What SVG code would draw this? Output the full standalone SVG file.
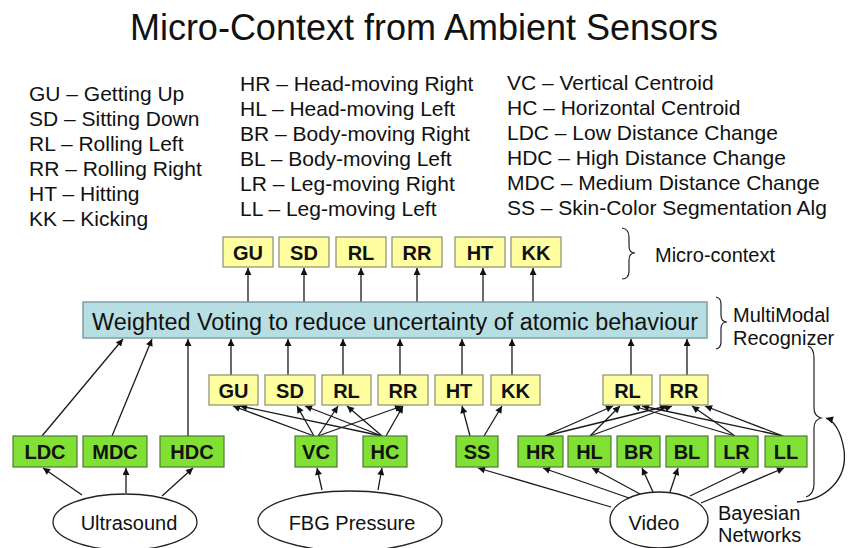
<svg xmlns="http://www.w3.org/2000/svg" width="849" height="548" viewBox="0 0 849 548">
<defs>
<marker id="ah" viewBox="0 0 10 10" refX="10" refY="5" markerWidth="8" markerHeight="7" markerUnits="userSpaceOnUse" orient="auto"><path d="M0,0 L10,5 L0,10 z" fill="#111"/></marker>
<style>
text{font-family:"Liberation Sans",Arial,sans-serif;fill:#111}
.title{font-size:36px}
.leg{font-size:21px}
.lbl{font-size:20px;font-weight:bold;text-anchor:middle}
.txt{font-size:20px}
.mid{text-anchor:middle}
.y{fill:#ffffa0;stroke:#8c8c70;stroke-width:1.2}
.g{fill:#80e034;stroke:#4f7a35;stroke-width:1.2}
.b{fill:#b7dfe3;stroke:#7f9ea2;stroke-width:1.5}
.e{fill:#fff;stroke:#222;stroke-width:1.3}
.c line,.c path{stroke:#1a1a1a;stroke-width:1.3;fill:none}
.c .a{marker-end:url(#ah)}
.br{stroke:#222;stroke-width:1.2;fill:none}
</style>
</defs>
<rect width="849" height="548" fill="#fff"/>
<text class="title mid" x="424" y="40">Micro-Context from Ambient Sensors</text>
<g id="legend-left">
<text class="leg" x="29" y="101">GU – Getting Up</text>
<text class="leg" x="29" y="126">SD – Sitting Down</text>
<text class="leg" x="29" y="151">RL – Rolling Left</text>
<text class="leg" x="29" y="176">RR – Rolling Right</text>
<text class="leg" x="29" y="201">HT – Hitting</text>
<text class="leg" x="29" y="226">KK – Kicking</text>
</g>
<g id="legend-mid">
<text class="leg" x="240" y="91">HR – Head-moving Right</text>
<text class="leg" x="240" y="116">HL – Head-moving Left</text>
<text class="leg" x="240" y="141">BR – Body-moving Right</text>
<text class="leg" x="240" y="166">BL – Body-moving Left</text>
<text class="leg" x="240" y="191">LR – Leg-moving Right</text>
<text class="leg" x="240" y="216">LL – Leg-moving Left</text>
</g>
<g id="legend-right">
<text class="leg" x="507" y="90">VC – Vertical Centroid</text>
<text class="leg" x="507" y="115">HC – Horizontal Centroid</text>
<text class="leg" x="507" y="140">LDC – Low Distance Change</text>
<text class="leg" x="507" y="165">HDC – High Distance Change</text>
<text class="leg" x="507" y="190">MDC – Medium Distance Change</text>
<text class="leg" x="507" y="215">SS – Skin-Color Segmentation Alg</text>
</g>

<g class="c" id="connectors">
<line class="a" x1="248" y1="302" x2="248" y2="268"/>
<line class="a" x1="304" y1="302" x2="304" y2="268"/>
<line class="a" x1="361" y1="302" x2="361" y2="268"/>
<line class="a" x1="417" y1="302" x2="417" y2="268"/>
<line class="a" x1="483" y1="302" x2="483" y2="268"/>
<line class="a" x1="533" y1="302" x2="533" y2="268"/>
<line class="a" x1="42" y1="436" x2="123" y2="339"/>
<line class="a" x1="112" y1="436" x2="152" y2="339"/>
<line class="a" x1="188" y1="436" x2="188" y2="339"/>
<line class="a" x1="231" y1="375" x2="231" y2="339"/>
<line class="a" x1="288" y1="375" x2="288" y2="339"/>
<line class="a" x1="343" y1="375" x2="343" y2="339"/>
<line class="a" x1="400" y1="375" x2="400" y2="339"/>
<line class="a" x1="462" y1="375" x2="462" y2="339"/>
<line class="a" x1="512" y1="375" x2="512" y2="339"/>
<line class="a" x1="631" y1="375" x2="631" y2="339"/>
<line class="a" x1="687" y1="375" x2="687" y2="339"/>
<line class="a" x1="314" y1="436" x2="233" y2="406"/>
<line class="a" x1="314" y1="436" x2="297" y2="406"/>
<line class="a" x1="318" y1="436" x2="338" y2="406"/>
<line class="a" x1="318" y1="436" x2="402" y2="406"/>
<line class="a" x1="382" y1="436" x2="240" y2="406"/>
<line class="a" x1="382" y1="436" x2="305" y2="406"/>
<line class="a" x1="382" y1="436" x2="347" y2="406"/>
<line class="a" x1="386" y1="436" x2="403" y2="406"/>
<line class="a" x1="470" y1="436" x2="462" y2="406"/>
<line class="a" x1="484" y1="436" x2="502" y2="406"/>
<line class="a" x1="545" y1="436" x2="613" y2="406"/>
<line class="a" x1="545" y1="436" x2="667" y2="406"/>
<line class="a" x1="590" y1="436" x2="620" y2="406"/>
<line class="a" x1="590" y1="436" x2="672" y2="406"/>
<line class="a" x1="735" y1="436" x2="633" y2="406"/>
<line class="a" x1="735" y1="436" x2="692" y2="406"/>
<line class="a" x1="783" y1="436" x2="642" y2="406"/>
<line class="a" x1="783" y1="436" x2="705" y2="406"/>
<line class="a" x1="82" y1="495" x2="43" y2="468"/>
<line class="a" x1="126" y1="493" x2="126" y2="468"/>
<line class="a" x1="162" y1="496" x2="193" y2="468"/>
<line class="a" x1="322" y1="490" x2="317" y2="468"/>
<line class="a" x1="378" y1="490" x2="382" y2="468"/>
<line class="a" x1="611" y1="507" x2="478" y2="468"/>
<line class="a" x1="629" y1="498" x2="543" y2="468"/>
<line class="a" x1="640" y1="494" x2="592" y2="468"/>
<line class="a" x1="653" y1="492" x2="642" y2="468"/>
<line class="a" x1="670" y1="492" x2="678" y2="468"/>
<line class="a" x1="690" y1="496" x2="748" y2="468"/>
<line class="a" x1="701" y1="503" x2="784" y2="468"/>
<path class="a" d="M797 502 C825 500 848 480 844 450 C841 430 833 420 826 418"/>
</g>

<g id="voting">
<rect class="b" x="83" y="302" width="624" height="36"/>
<text class="txt" x="92" y="330" style="font-size:23px" textLength="606" lengthAdjust="spacingAndGlyphs">Weighted Voting to reduce uncertainty of atomic behaviour</text>
</g>

<g id="top-GU"><rect class="y" x="223" y="237" width="50" height="30"/><text class="lbl" x="248" y="260">GU</text></g>
<g id="top-SD"><rect class="y" x="279" y="237" width="50" height="30"/><text class="lbl" x="304" y="260">SD</text></g>
<g id="top-RL"><rect class="y" x="336" y="237" width="50" height="30"/><text class="lbl" x="361" y="260">RL</text></g>
<g id="top-RR"><rect class="y" x="392" y="237" width="50" height="30"/><text class="lbl" x="417" y="260">RR</text></g>
<g id="top-HT"><rect class="y" x="455" y="237" width="50" height="30"/><text class="lbl" x="480" y="260">HT</text></g>
<g id="top-KK"><rect class="y" x="511" y="237" width="50" height="30"/><text class="lbl" x="536" y="260">KK</text></g>

<g id="mid-GU"><rect class="y" x="209" y="375" width="49" height="30"/><text class="lbl" x="233.5" y="398">GU</text></g>
<g id="mid-SD"><rect class="y" x="265" y="375" width="50" height="30"/><text class="lbl" x="290" y="398">SD</text></g>
<g id="mid-RL"><rect class="y" x="322" y="375" width="49" height="30"/><text class="lbl" x="346.5" y="398">RL</text></g>
<g id="mid-RR"><rect class="y" x="378" y="375" width="50" height="30"/><text class="lbl" x="403" y="398">RR</text></g>
<g id="mid-HT"><rect class="y" x="435" y="375" width="48" height="30"/><text class="lbl" x="459" y="398">HT</text></g>
<g id="mid-KK"><rect class="y" x="491" y="375" width="49" height="30"/><text class="lbl" x="515.5" y="398">KK</text></g>
<g id="mid-RL2"><rect class="y" x="603" y="375" width="49" height="30"/><text class="lbl" x="627.5" y="398">RL</text></g>
<g id="mid-RR2"><rect class="y" x="660" y="375" width="48" height="30"/><text class="lbl" x="684" y="398">RR</text></g>

<g id="LDC"><rect class="g" x="13" y="436" width="64" height="31"/><text class="lbl" x="45" y="459">LDC</text></g>
<g id="MDC"><rect class="g" x="83" y="436" width="64" height="31"/><text class="lbl" x="115" y="459">MDC</text></g>
<g id="HDC"><rect class="g" x="160" y="436" width="64" height="31"/><text class="lbl" x="192" y="459">HDC</text></g>
<g id="VC"><rect class="g" x="295" y="436" width="42" height="31"/><text class="lbl" x="316" y="459">VC</text></g>
<g id="HC"><rect class="g" x="363" y="436" width="44" height="31"/><text class="lbl" x="385" y="459">HC</text></g>
<g id="SS"><rect class="g" x="456" y="436" width="42" height="31"/><text class="lbl" x="477" y="459">SS</text></g>
<g id="HR"><rect class="g" x="518" y="436" width="45" height="31"/><text class="lbl" x="540.5" y="459">HR</text></g>
<g id="HL"><rect class="g" x="568" y="436" width="43" height="31"/><text class="lbl" x="589.5" y="459">HL</text></g>
<g id="BR"><rect class="g" x="617" y="436" width="43" height="31"/><text class="lbl" x="638.5" y="459">BR</text></g>
<g id="BL"><rect class="g" x="666" y="436" width="42" height="31"/><text class="lbl" x="687" y="459">BL</text></g>
<g id="LR"><rect class="g" x="715" y="436" width="43" height="31"/><text class="lbl" x="736.5" y="459">LR</text></g>
<g id="LL"><rect class="g" x="765" y="436" width="42" height="31"/><text class="lbl" x="786" y="459">LL</text></g>

<g id="Ultrasound"><ellipse class="e" cx="125" cy="522" rx="72" ry="28"/><text class="txt mid" x="129" y="530">Ultrasound</text></g>
<g id="FBG"><ellipse class="e" cx="350" cy="521" rx="92" ry="30"/><text class="txt mid" x="352" y="530">FBG Pressure</text></g>
<g id="Video"><ellipse class="e" cx="659" cy="520" rx="49" ry="28"/><text class="txt mid" x="654" y="530">Video</text></g>

<g id="annotations">
<path class="br" d="M622 228 Q629 229 629 237 L629 246 Q629 253 635 253 Q629 253 629 260 L629 271 Q629 279 622 279"/>
<text class="txt" x="655" y="262">Micro-context</text>
<path class="br" d="M716 297 Q721 298 721 304 L721 315 Q721 322 727 322 Q721 322 721 329 L721 342 Q721 348 716 349"/>
<text class="txt" x="733" y="322">MultiModal</text>
<text class="txt" x="733" y="345">Recognizer</text>
<path class="br" d="M808 346 Q814 348 814 358 L814 408 Q814 416 821 418 Q814 420 814 428 L814 484 Q814 494 806 497"/>
<text class="txt" x="718" y="520">Bayesian</text>
<text class="txt" x="718" y="542">Networks</text>
</g>
</svg>
